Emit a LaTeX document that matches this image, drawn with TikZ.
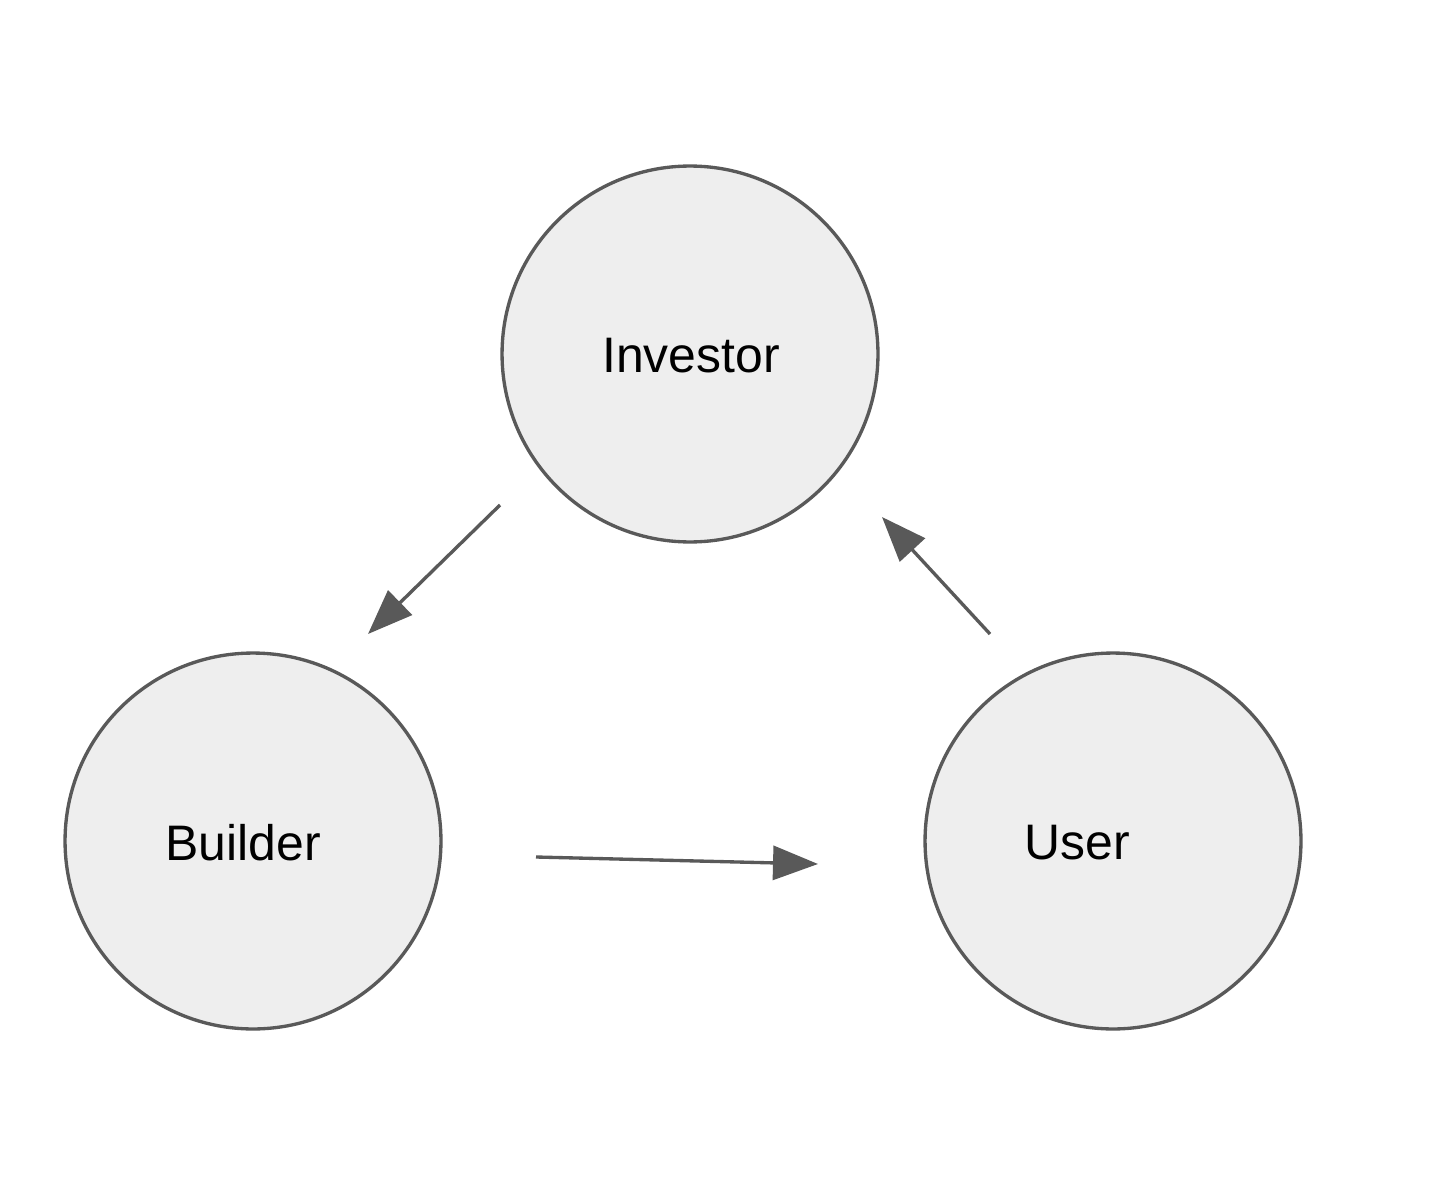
\documentclass[tikz,border=0pt]{standalone}
\usepackage{fontspec}
\setmainfont{Liberation Sans}
\usetikzlibrary{arrows.meta}
\definecolor{edge}{HTML}{595959}
\definecolor{fillg}{HTML}{EEEEEE}
\begin{document}
\begin{tikzpicture}[x=0.02cm,y=-0.02cm,
  actor/.style={circle, draw=edge, fill=fillg, line width=1.9pt, minimum size=7.52cm, inner sep=0pt},
  lbl/.style={font=\fontsize{28.4}{34}\selectfont, text=black, inner sep=0pt},
  flow/.style={draw=edge, line width=1.9pt, -{Triangle[length=0.9cm,width=0.68cm]}, shorten >=0pt}]
\useasboundingbox[fill=white] (0,0) rectangle (1452,1182);
\node[actor] (inv) at (690,354) {};
\node[actor] (bld) at (253,841) {};
\node[actor] (usr) at (1113,841) {};
\node[lbl] (tinv) at (691,356) {Investor};
\node[lbl] (tbld) at (243,843) {Builder};
\node[lbl] (tusr) at (1077,843) {User};
\coordinate (a1s) at (500,505);
\coordinate (a1e) at (368,634);
\coordinate (a2s) at (990,634);
\coordinate (a2e) at (882,517);
\coordinate (a3s) at (536,857);
\coordinate (a3e) at (818,864);
\draw[flow] (a1s) -- (a1e);
\draw[flow] (a2s) -- (a2e);
\draw[flow] (a3s) -- (a3e);
\end{tikzpicture}
\end{document}
